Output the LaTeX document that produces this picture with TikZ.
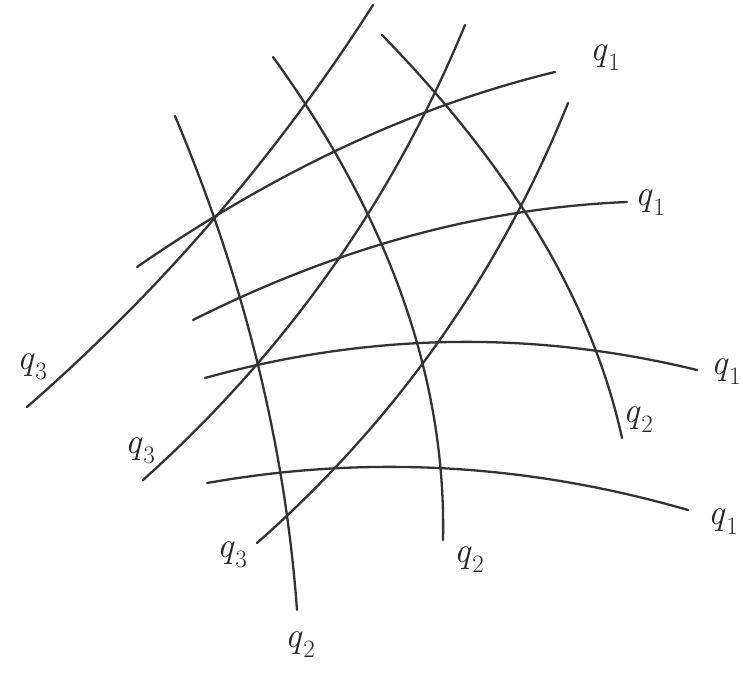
\documentclass[tikz,border=0pt]{standalone}
\usetikzlibrary{calc}
\newcommand\qcurve[3]{\draw[curve] (#1) .. controls ($(#1)!2/3!(#2)$) and ($(#3)!2/3!(#2)$) .. (#3);}
\newcommand\qlab[1]{\textit{q}\kern0.02em\raisebox{-0.28em}{\fontsize{25}{25}\selectfont #1}}
\begin{document}
\begin{tikzpicture}[x=1pt,y=-1pt,
  curve/.style={draw=black!80, line width=2.3pt, line cap=round},
  lab/.style={inner sep=0pt, text=black!85, font=\fontsize{36}{36}\selectfont}]
\useasboundingbox (0,0) rectangle (743,680);
\fill[white] (0,0) rectangle (743,680);
% q1 family
\qcurve{137,267}{346,122.5}{555,72}
\qcurve{193,320}{410,211}{627,202}
\qcurve{205,378}{451,310}{697,370}
\qcurve{207,483}{447.5,440.5}{688,510}
% q2 family
\qcurve{175,116}{279,363}{297,610}
\qcurve{273,57}{448,299}{443,540}
\qcurve{382,35}{578,236}{622,438}
% q3 family
\qcurve{27,407}{228.8,230.8}{373,5}
\qcurve{143,480}{356,289.5}{465,25}
\qcurve{257,543}{464.7,360}{568,103}
% labels
\node[lab] (l1a) at (605,58) {\qlab{1}};
\node[lab] (l1b) at (650,203) {\qlab{1}};
\node[lab] (l1c) at (726,372) {\qlab{1}};
\node[lab] (l1d) at (723,522) {\qlab{1}};
\node[lab] (l2a) at (300,645) {\qlab{2}};
\node[lab] (l2b) at (469,560) {\qlab{2}};
\node[lab] (l2c) at (638,420) {\qlab{2}};
\node[lab] (l3a) at (32,367) {\qlab{3}};
\node[lab] (l3b) at (140,451) {\qlab{3}};
\node[lab] (l3c) at (232,555) {\qlab{3}};
\end{tikzpicture}
\end{document}
